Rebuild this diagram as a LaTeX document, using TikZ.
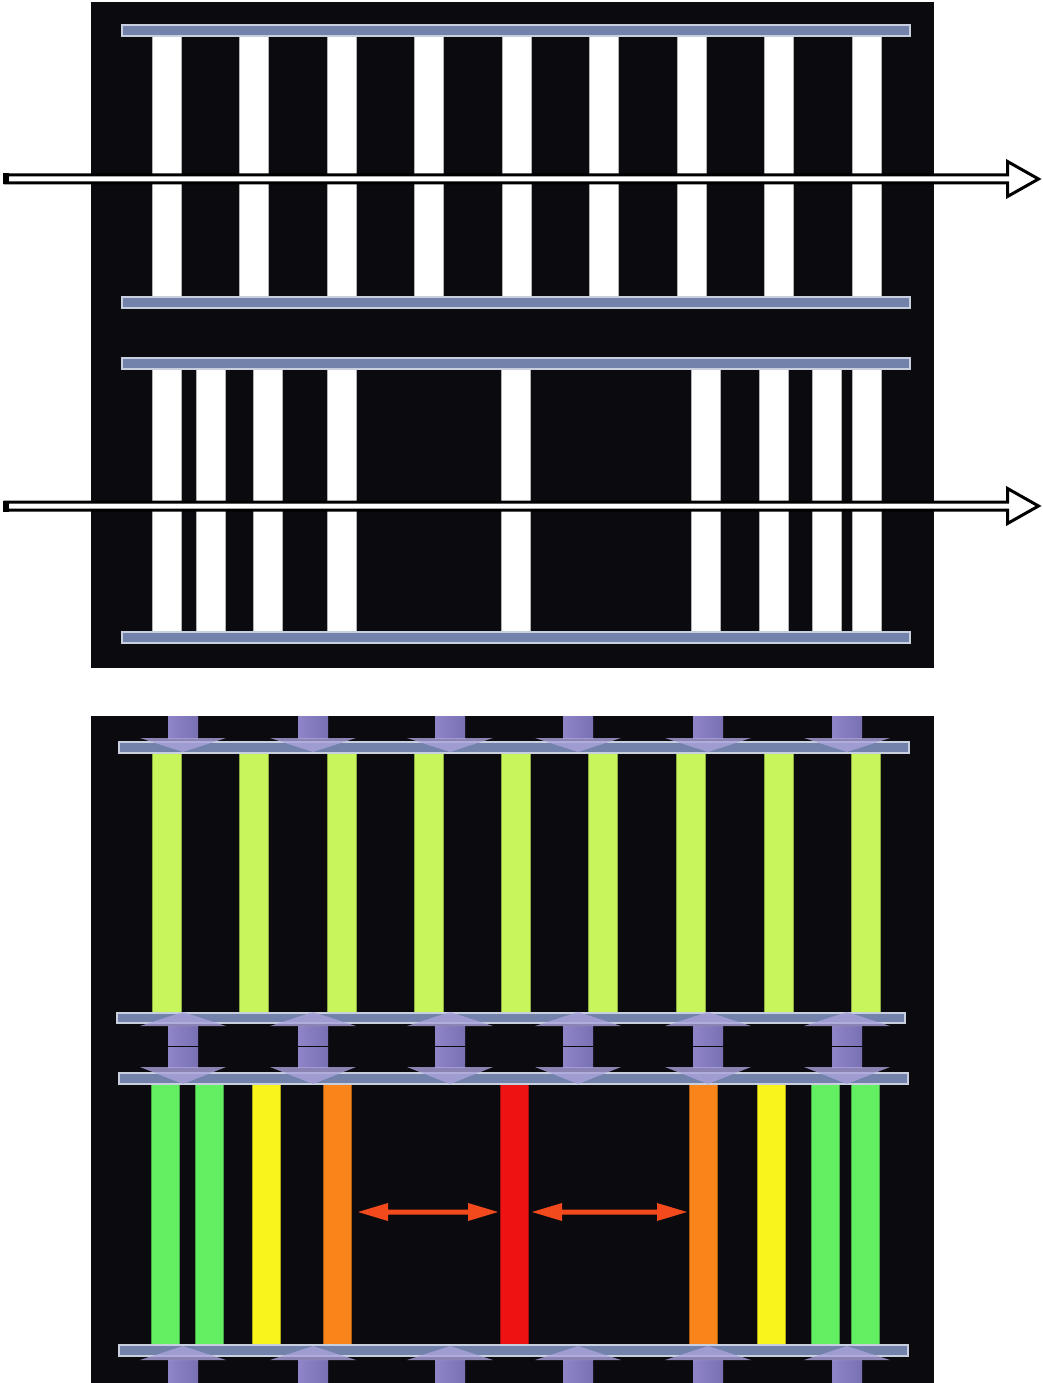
\documentclass[tikz,border=0pt]{standalone}
\definecolor{bg}{HTML}{0B0B0F}
\definecolor{plate}{HTML}{7282AA}
\definecolor{plateedge}{HTML}{C8D0E0}
\definecolor{purp}{HTML}{968CD2}
\definecolor{purpdark}{HTML}{7E76BC}
\definecolor{ygreen}{HTML}{C8F45C}
\definecolor{lgreen}{HTML}{62F062}
\definecolor{yel}{HTML}{F8F41C}
\definecolor{org}{HTML}{F8841A}
\definecolor{redbar}{HTML}{EE1212}
\definecolor{redarr}{HTML}{F24A1C}
\tikzset{
  platestyle/.style={fill=plate,draw=plateedge,line width=1.2pt},
  whitebar/.style={fill=white,draw=gray!60,line width=0.8pt},
  colbar/.style={fill=#1,draw=#1!70!black,line width=0.6pt},
  flowarrow/.style={fill=white,draw=black,line width=3pt,line join=miter},
  purpshaft/.style={left color=purp,right color=purpdark,fill opacity=0.95},
  purphead/.style={fill=purp!80!white,fill opacity=0.8},
  redarrow/.style={fill=redarr}
}
\newcommand\pressarrow[4]{%
  \shade[purpshaft] (#1-15,#2) rectangle (#1+15,#3);
  \fill[purphead] (#1-43,#3) -- (#1+43,#3) -- (#1,#4) -- cycle;}
\newcommand\flowarr[1]{%
  \draw[flowarrow] (5,#1-4) -- (1007.5,#1-4) -- (1007.5,#1-17.5) -- (1038.5,#1)
     -- (1007.5,#1+17.5) -- (1007.5,#1+4) -- (5,#1+4) -- cycle;
  \fill[black] (3,#1-5.5) rectangle (9,#1+5.5);}
\newcommand\dblred[3]{% x1 x2 y
  \fill[redarrow] (#1,#3) -- (#1+30,#3-9) -- (#1+30,#3-2.5) -- (#2-30,#3-2.5) -- (#2-30,#3-9)
     -- (#2,#3) -- (#2-30,#3+9) -- (#2-30,#3+2.5) -- (#1+30,#3+2.5) -- (#1+30,#3+9) -- cycle;}
\begin{document}
\begin{tikzpicture}[x=1pt,y=-1pt]
\useasboundingbox (0,0) rectangle (1042,1383);
% ---------- top panel ----------
\fill[bg] (91,2) rectangle (934,668);
\foreach \x in {152,239.5,327,414.5,502,589.5,677,764.5,852}
  \filldraw[whitebar] (\x,36) rectangle (\x+29,297);
\foreach \x in {152,196.5,253,327,501,691,759,812,852}
  \filldraw[whitebar] (\x,369) rectangle (\x+29,632);
\filldraw[platestyle] (122,25) rectangle (910,36);
\filldraw[platestyle] (122,297) rectangle (910,308);
\filldraw[platestyle] (122,358) rectangle (910,369);
\filldraw[platestyle] (122,632) rectangle (910,643);
\flowarr{179}
\flowarr{506}
% ---------- bottom panel ----------
\fill[bg] (91,716) rectangle (934,1383);
\foreach \x in {152,239.5,327,414.5,501,588.5,676,764,851}
  \filldraw[colbar=ygreen] (\x,753) rectangle (\x+29,1013);
\foreach \x/\c in {151/lgreen,195/lgreen,252/yel,323/org,500/redbar,689/org,757/yel,811/lgreen,851/lgreen}
  \filldraw[colbar=\c] (\x,1084) rectangle (\x+28.5,1345);
\filldraw[platestyle] (119,742) rectangle (909,753);
\filldraw[platestyle] (117,1013) rectangle (905,1023);
\filldraw[platestyle] (119,1073) rectangle (908,1084);
\filldraw[platestyle] (119,1345) rectangle (908,1356);
\foreach \x in {183,313,450,578,708,847} {
  \pressarrow{\x}{716}{738}{752}
  \pressarrow{\x}{1045}{1026}{1012}
  \pressarrow{\x}{1047}{1067}{1084}
  \pressarrow{\x}{1383}{1360}{1346}
}
\dblred{358}{498}{1212}
\dblred{532}{687}{1212}
\end{tikzpicture}
\end{document}
